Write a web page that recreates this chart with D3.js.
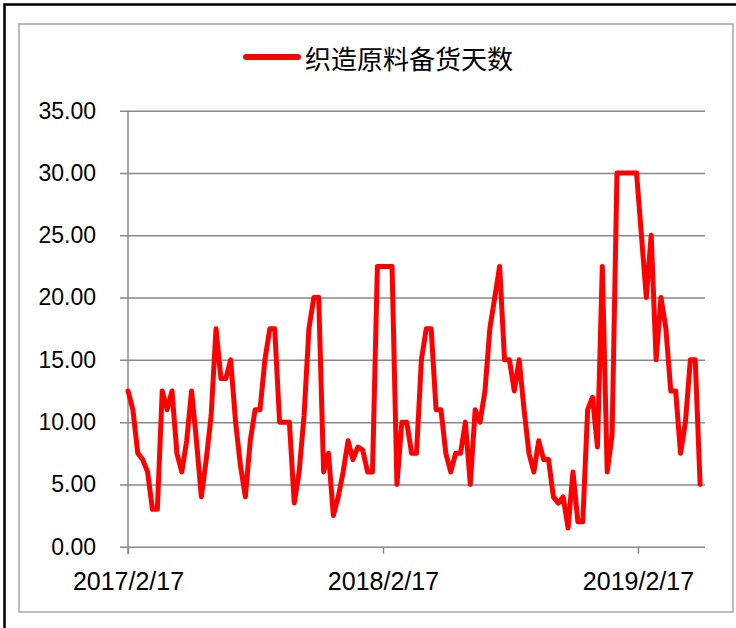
<!DOCTYPE html>
<html>
<head>
<meta charset="utf-8">
<script src="https://cdn.jsdelivr.net/npm/d3@7"></script>
<style>
  html, body { margin: 0; padding: 0; background: #fff; }
  svg { display: block; }
</style>
</head>
<body>
<div id="chart"></div>
<script>
// series name and weekly values
var seriesName = "织造原料备货天数";
var startDate = "2017-02-17";
var endDate = "2019-05-24";
var values = [
  12.5, 11.0, 7.5, 7.0, 6.0, 3.0, 3.0, 12.5, 11.0, 12.5,
  7.5, 6.0, 8.5, 12.5, 8.5, 4.0, 7.0, 10.5, 17.5, 13.5,
  13.5, 15.0, 10.0, 6.5, 4.0, 8.5, 11.0, 11.0, 15.0, 17.5,
  17.5, 10.0, 10.0, 10.0, 3.5, 6.0, 10.5, 17.5, 20.0, 20.0,
  6.0, 7.5, 2.5, 4.0, 6.0, 8.5, 7.0, 8.0, 7.75, 6.0,
  6.0, 22.5, 22.5, 22.5, 22.5, 5.0, 10.0, 10.0, 7.5, 7.5,
  15.0, 17.5, 17.5, 11.0, 11.0, 7.5, 6.0, 7.5, 7.5, 10.0,
  5.0, 11.0, 10.0, 12.5, 17.5, 20.0, 22.5, 15.0, 15.0, 12.5,
  15.0, 11.0, 7.5, 6.0, 8.5, 7.0, 7.0, 4.0, 3.5, 4.0,
  1.5, 6.0, 2.0, 2.0, 11.0, 12.0, 8.0, 22.5, 6.0, 9.0,
  30.0, 30.0, 30.0, 30.0, 30.0, 25.0, 20.0, 25.0, 15.0, 20.0,
  17.5, 12.5, 12.5, 7.5, 10.0, 15.0, 15.0, 5.0
];
var yTicks = [0, 5, 10, 15, 20, 25, 30, 35];
var xTickLabels = ["2017/2/17", "2018/2/17", "2019/2/17"];

var width = 736, height = 628;
var plot = {left: 128, right: 705, top: 110.7, bottom: 546.7};

var parse = d3.timeParse("%Y-%m-%d");
var parseTick = d3.timeParse("%Y/%m/%d");
var start = parse(startDate);
// one reading per week
var data = values.map(function(v, i) {
  return {date: d3.timeDay.offset(start, 7 * i), value: v};
});

var x = d3.scaleTime()
    .domain([start, parse(endDate)])
    .range([plot.left, plot.right]);

var y = d3.scaleLinear()
    .domain([0, 35])
    .range([plot.bottom, plot.top]);

var svg = d3.select("#chart").append("svg")
    .attr("width", width)
    .attr("height", height);

// outer frame
svg.append("rect")
    .attr("x", 4.5).attr("y", 4.5)
    .attr("width", 740).attr("height", 630)
    .attr("fill", "none")
    .attr("stroke", "#000")
    .attr("stroke-width", 2.5);

// chart area border
svg.append("rect")
    .attr("x", 19).attr("y", 24)
    .attr("width", 714).attr("height", 588)
    .attr("fill", "#fff")
    .attr("stroke", "#a6a6a6")
    .attr("stroke-width", 1.5);

// y axis with gridlines
var yAxis = svg.append("g")
    .attr("transform", "translate(" + (plot.left - 8) + ",0)")
    .call(d3.axisLeft(y)
      .tickValues(yTicks)
      .tickFormat(d3.format(".2f"))
      .tickSize(-(plot.right - plot.left + 8))
      .tickPadding(24));
yAxis.select(".domain").remove();
yAxis.selectAll(".tick line")
    .attr("stroke", "#898989")
    .attr("stroke-width", 1.5);
yAxis.selectAll(".tick text")
    .attr("font-family", "'Liberation Sans', Arial, sans-serif")
    .attr("font-size", 23)
    .attr("fill", "#000");

// vertical axis line
svg.append("line")
    .attr("x1", plot.left).attr("x2", plot.left)
    .attr("y1", plot.top).attr("y2", plot.bottom + 7)
    .attr("stroke", "#898989")
    .attr("stroke-width", 1.5);

// x axis
var xAxis = svg.append("g")
    .attr("transform", "translate(0," + plot.bottom + ")")
    .call(d3.axisBottom(x)
      .tickValues(xTickLabels.map(parseTick))
      .tickFormat(d3.timeFormat("%Y/%-m/%-d"))
      .tickSize(7)
      .tickPadding(19));
xAxis.select(".domain").remove();
xAxis.selectAll(".tick line")
    .attr("stroke", "#898989")
    .attr("stroke-width", 1.5);
xAxis.selectAll(".tick text")
    .attr("font-family", "'Liberation Sans', Arial, sans-serif")
    .attr("font-size", 25)
    .attr("fill", "#000");

// series line
var line = d3.line()
    .x(function(d) { return x(d.date); })
    .y(function(d) { return y(d.value); });

svg.append("path")
    .datum(data)
    .attr("d", line)
    .attr("fill", "none")
    .attr("stroke", "#ff0000")
    .attr("stroke-width", 5)
    .attr("stroke-linejoin", "round")
    .attr("stroke-linecap", "round");

// legend
var legend = svg.append("g").attr("class", "legend");
legend.append("line")
    .attr("x1", 246).attr("x2", 298)
    .attr("y1", 57).attr("y2", 57)
    .attr("stroke", "#ff0000")
    .attr("stroke-width", 6)
    .attr("stroke-linecap", "round");
legend.append("text")
    .attr("x", 305)
    .attr("y", 57)
    .attr("dominant-baseline", "central")
    .attr("font-family", "'Noto Sans CJK SC', sans-serif")
    .attr("font-size", 26)
    .attr("fill", "#000")
    .text(seriesName);
</script>
</body>
</html>
